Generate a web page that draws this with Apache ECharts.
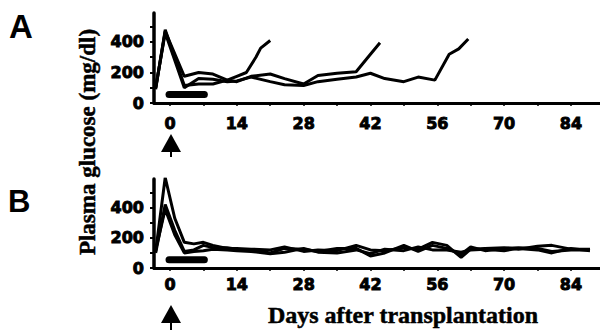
<!DOCTYPE html>
<html>
<head>
<meta charset="utf-8">
<script src="https://cdn.jsdelivr.net/npm/echarts@6/dist/echarts.min.js"></script>
<style>
html,body{margin:0;padding:0;background:#fff;}
#c{width:600px;height:331px;}
</style>
</head>
<body>
<div id="c"></div>
<script>
// ---- data (day, plasma glucose mg/dl) ----
const xTickLabels = [0, 14, 28, 42, 56, 70, 84];
const xMinorTicks = [0, 7, 14, 21, 28, 35, 42, 49, 56, 63, 70, 77, 84];
const yTickLabels = [0, 200, 400];
const yTicks = [0, 100, 200, 300, 400, 500];

const mouseA1 = [[-3,90],[-1,480],[3,115],[6,125],[9,125],[12,150],[14,175],[16,200],[18,300],[19,360],[21,410]];
const mouseA2 = [[-3,100],[-1,470],[3,175],[6,200],[9,190],[12,150],[14,140],[17,175],[21,190],[24,160],[28,125],[31,180],[35,195],[39,205],[42,320],[44,395]];
const mouseA3 = [[-3,100],[-1,460],[3,100],[6,160],[9,155],[12,140],[14,145],[17,170],[21,140],[24,120],[28,115],[31,140],[35,155],[39,170],[42,195],[45,160],[49,140],[52,170],[55.5,150],[58.5,320],[60.5,355],[62.5,420]];

const mouseB1 = [[-3,110],[-1,600],[1,330],[3,170],[5,160],[7,170],[9,150],[12,130],[14,130],[17,125],[21,120],[24,140],[28,110],[31,120],[35,115],[39,150],[42,120],[45,115],[49,135],[52,125],[55,170],[58,150],[61,70],[63,125],[66,130],[70,135],[73,125],[77,145],[80,150],[84,125],[88,125]];
const mouseB2 = [[-3,100],[-1,420],[1,250],[3,110],[5,120],[7,150],[9,135],[12,135],[14,125],[17,120],[21,100],[24,130],[28,125],[31,110],[35,130],[39,130],[42,80],[45,100],[49,150],[52,110],[55,150],[58,130],[61,90],[63,140],[66,115],[70,130],[73,135],[77,130],[80,110],[84,120],[88,120]];
const mouseB3 = [[-3,120],[-1,390],[1,220],[3,100],[5,110],[7,115],[9,125],[12,120],[14,115],[17,110],[21,95],[24,105],[28,130],[31,105],[35,100],[39,120],[42,95],[45,125],[49,115],[52,140],[55,120],[58,120],[61,105],[63,120],[66,125],[70,115],[73,130],[77,120],[80,100],[84,130],[88,115]];

const treatmentBar = [[-0.2,55],[7.2,55]];

// ---- chart ----
const chart = echarts.init(document.getElementById('c'), null, {renderer:'svg'});
const labelFont = {fontFamily:'DejaVu Sans', fontWeight:'bold', fontSize:16, color:'#000', textBorderColor:'#000', textBorderWidth:0.9};

function xAxis(gi, margin){
  return {
    type:'value', gridIndex:gi, min:-3.35, max:90.1,
    axisLine:{show:true, onZero:false, lineStyle:{color:'#000', width:3}},
    axisTick:{show:true, customValues:xMinorTicks, length:3, lineStyle:{color:'#000', width:1.5}},
    axisLabel:Object.assign({show:true, customValues:xTickLabels, margin:margin}, labelFont),
    splitLine:{show:false}
  };
}
function yAxis(gi){
  return {
    type:'value', gridIndex:gi, min:0, max:590,
    axisLine:{show:true, onZero:false, lineStyle:{color:'#000', width:3.5}},
    axisTick:{show:true, customValues:yTicks, length:4, lineStyle:{color:'#000', width:2}},
    axisLabel:Object.assign({show:true, customValues:yTickLabels, margin:10}, labelFont),
    splitLine:{show:false}
  };
}
function lineSeries(data, xi, w){
  return {type:'line', xAxisIndex:xi, yAxisIndex:xi, data:data, symbol:'none',
    lineStyle:{color:'#000', width:w||3}, z:3, silent:true};
}
function barSeries(xi){
  return {type:'line', xAxisIndex:xi, yAxisIndex:xi, data:treatmentBar, symbol:'none',
    lineStyle:{color:'#000', width:7, cap:'round'}, z:4, silent:true};
}

const arrow = (cx, top) => ({
  type:'polygon', shape:{points:[[cx, top],[cx-10, top+18],[cx+10, top+18]]}, style:{fill:'#000'}
});
const stem = (cx, y1, y2) => ({
  type:'line', shape:{x1:cx, y1:y1, x2:cx, y2:y2}, style:{stroke:'#000', lineWidth:2}
});

chart.setOption({
  animation:false,
  backgroundColor:'#fff',
  grid:[
    {left:154, top:13, width:446, height:90},
    {left:154, top:179, width:446, height:89}
  ],
  xAxis:[xAxis(0, 12), xAxis(1, 8)],
  yAxis:[yAxis(0), yAxis(1)],
  series:[
    lineSeries(mouseA1,0), lineSeries(mouseA2,0), lineSeries(mouseA3,0), barSeries(0),
    lineSeries(mouseB1,1), lineSeries(mouseB2,1), lineSeries(mouseB3,1), barSeries(1)
  ],
  graphic:[
    {type:'text', left:9, top:10, style:{text:'A', fontFamily:'Liberation Sans', fontWeight:'bold', fontSize:33, fill:'#000'}},
    {type:'text', left:8, top:186, style:{text:'B', fontFamily:'Liberation Sans', fontWeight:'bold', fontSize:31, fill:'#000'}},
    {type:'text', x:87, y:142, rotation:Math.PI/2,
      style:{text:'Plasma glucose (mg/dl)', fontFamily:'Liberation Serif', fontWeight:'bold', fontSize:23, fill:'#000', stroke:'#000', lineWidth:0.5, align:'center', verticalAlign:'middle'}},
    {type:'text', x:403, y:315,
      style:{text:'Days after transplantation', fontFamily:'Liberation Serif', fontWeight:'bold', fontSize:24, fill:'#000', stroke:'#000', lineWidth:0.5, align:'center', verticalAlign:'middle'}},
    arrow(171, 134), stem(171, 150, 157),
    arrow(171, 305), stem(171, 320, 330)
  ]
});
</script>
</body>
</html>
